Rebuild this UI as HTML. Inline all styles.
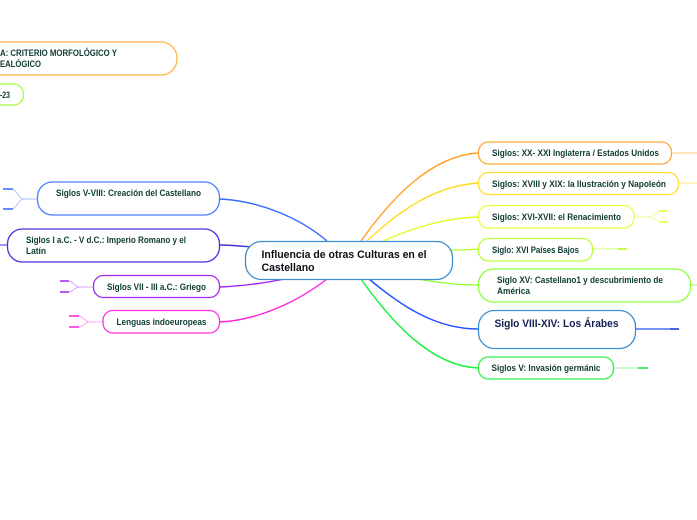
<!DOCTYPE html>
<html><head><meta charset="utf-8"><style>
html,body{margin:0;padding:0;background:#fff}
svg{display:block}
text{font-family:"Liberation Sans","Noto Sans CJK JP",sans-serif;font-weight:700;fill:#0e3b33;font-size:9px}
rect{fill:#fff;stroke-width:1.3}
path{fill:none}
</style></head><body>
<svg width="697" height="520" viewBox="0 0 697 520" xmlns="http://www.w3.org/2000/svg">
<!-- main connectors right -->
<path d="M361 241C390 200 430 156 478 153" stroke="#ff9f24" stroke-width="1.4"/>
<path d="M367 241C400 210 435 186 478 183" stroke="#ffd91a" stroke-width="1.4"/>
<path d="M383 241C415 227 445 218 478 217" stroke="#e3ff24" stroke-width="1.4"/>
<path d="M450 250C460 250 468 250 478 249" stroke="#b4ff2c" stroke-width="1.2"/>
<path d="M418 279C440 283 458 285 478 285" stroke="#88ff2c" stroke-width="1.2"/>
<path d="M369 279C400 305 435 329 478 329" stroke="#2450ff" stroke-width="1.5"/>
<path d="M361 279C390 320 430 366 478 368" stroke="#1ff040" stroke-width="1.5"/>
<!-- main connectors left -->
<path d="M220 199C260 201 300 218 327 241" stroke="#356aff" stroke-width="1.4"/>
<path d="M220 245C230 245 240 246 252 247" stroke="#4a2fe0" stroke-width="1.4"/>
<path d="M220 287C245 286 265 283 285 279" stroke="#a526f0" stroke-width="1.4"/>
<path d="M220 322C260 320 300 300 327 279" stroke="#ff22de" stroke-width="1.4"/>
<!-- right stubs -->
<path d="M672 153H697" stroke="#ffdca8" stroke-width="1.4"/>
<path d="M679 183H697" stroke="#ffef9a" stroke-width="1.2"/>
<path d="M635 217H648C654 217 656 211 662 211M648 217C654 217 656 222 662 222" stroke="#efff90" stroke-width="1"/>
<path d="M659 211H668M659 222H668" stroke="#e3ff24" stroke-width="1.6"/>
<path d="M593 249H618" stroke="#ddff9a" stroke-width="1.2"/>
<path d="M618 249H627" stroke="#b4ff2c" stroke-width="1.6"/>
<path d="M691 285H697" stroke="#b8ff80" stroke-width="1.2"/>
<path d="M636 329H670" stroke="#2450ff" stroke-width="1.2"/>
<path d="M670 329H679" stroke="#1f3fd8" stroke-width="1.6"/>
<path d="M614 368H638" stroke="#aaffb5" stroke-width="1.2"/>
<path d="M638 368H648" stroke="#1fee40" stroke-width="1.6"/>
<!-- left stubs -->
<path d="M37 199H24C18 199 17 189 11 189M24 199C18 199 17 209 11 209" stroke="#a8c0ff" stroke-width="1"/>
<path d="M3 189H13M3 209H13" stroke="#356aff" stroke-width="1.6"/>
<path d="M7 245H0" stroke="#4a2fe0" stroke-width="1"/>
<path d="M93 287H80C74 287 74 281 68 281M80 287C74 287 74 292 68 292" stroke="#dba8ff" stroke-width="1"/>
<path d="M60 281H69M60 292H69" stroke="#a526f0" stroke-width="1.6"/>
<path d="M103 322H90C84 322 84 316 78 316M90 322C84 322 84 327 78 327" stroke="#ffa8f0" stroke-width="1"/>
<path d="M69 316H79M69 327H79" stroke="#ff22de" stroke-width="1.6"/>
<!-- top-left nodes -->
<rect x="-40" y="42" width="217" height="33" rx="16" stroke="#ffb347"/>
<text x="0" y="56" textLength="117" lengthAdjust="spacingAndGlyphs">A: CRITERIO MORFOLÓGICO Y</text>
<text x="0" y="67" textLength="41" lengthAdjust="spacingAndGlyphs">EALÓGICO</text>
<rect x="-30" y="84" width="53.500" height="21" rx="10" stroke="#a4ff3a"/>
<text x="0" y="98" textLength="10" lengthAdjust="spacingAndGlyphs">-23</text>
<!-- left nodes -->
<rect x="37.500" y="182" width="182" height="33" rx="15" stroke="#4a7dff"/>
<text x="56" y="196" textLength="145" lengthAdjust="spacingAndGlyphs">Siglos V-VIII: Creación del Castellano</text>
<rect x="7.500" y="229" width="212" height="33" rx="15" stroke="#4a2fe0"/>
<text x="26" y="243" textLength="160" lengthAdjust="spacingAndGlyphs">Siglos I a.C. - V d.C.: Imperio Romano y el</text>
<text x="26" y="254" textLength="20" lengthAdjust="spacingAndGlyphs">Latín</text>
<rect x="93.500" y="275.500" width="126" height="22" rx="10" stroke="#a526f0"/>
<text x="107" y="290" textLength="99" lengthAdjust="spacingAndGlyphs">Siglos VII - III a.C.: Griego</text>
<rect x="103" y="310.500" width="116.500" height="22.500" rx="10" stroke="#ff2ee0"/>
<text x="116.500" y="325" textLength="90" lengthAdjust="spacingAndGlyphs">Lenguas indoeuropeas</text>
<!-- right nodes -->
<rect x="478.500" y="142" width="193" height="22" rx="10" stroke="#ffa634"/>
<text x="492" y="156" textLength="167" lengthAdjust="spacingAndGlyphs">Siglos: XX- XXI Inglaterra / Estados Unidos</text>
<rect x="478.500" y="172.500" width="200" height="22" rx="10" stroke="#ffdc2e"/>
<text x="492" y="187" textLength="174" lengthAdjust="spacingAndGlyphs">Siglos: XVIII y XIX: la Ilustración y Napoleón</text>
<rect x="478.500" y="205.500" width="155.500" height="22.500" rx="10" stroke="#e6ff3a"/>
<text x="492" y="220" textLength="129" lengthAdjust="spacingAndGlyphs">Siglos: XVI-XVII: el Renacimiento</text>
<rect x="478.500" y="238.500" width="114" height="22.500" rx="10" stroke="#b8ff3a"/>
<text x="492" y="253" textLength="87" lengthAdjust="spacingAndGlyphs">Siglo: XVI Países Bajos</text>
<rect x="478.500" y="269" width="212" height="33" rx="15" stroke="#8cff3a"/>
<text x="497" y="283" textLength="166" lengthAdjust="spacingAndGlyphs">Siglo XV: Castellano1 y descubrimiento de</text>
<text x="497" y="294" textLength="33" lengthAdjust="spacingAndGlyphs">América</text>
<rect x="478.500" y="310.500" width="157" height="38" rx="16" stroke="#3b8ed0"/>
<text x="494.500" y="327" textLength="124" lengthAdjust="spacingAndGlyphs" style="font-size:11px;fill:#12204f">Siglo VIII-XIV: Los Árabes</text>
<rect x="478.500" y="357" width="135" height="22" rx="10" stroke="#2cf24a"/>
<text x="491.500" y="371" textLength="109" lengthAdjust="spacingAndGlyphs">Siglos V: Invasión germánic</text>
<!-- center -->
<rect x="245.500" y="241.500" width="207" height="38" rx="16" stroke="#3b8ed0"/>
<text x="261.500" y="258" textLength="165" lengthAdjust="spacingAndGlyphs" style="font-size:11px;fill:#0b0f14">Influencia de otras Culturas en el</text>
<text x="261.500" y="271" textLength="53" lengthAdjust="spacingAndGlyphs" style="font-size:11px;fill:#0b0f14">Castellano</text>
</svg>
</body></html>
